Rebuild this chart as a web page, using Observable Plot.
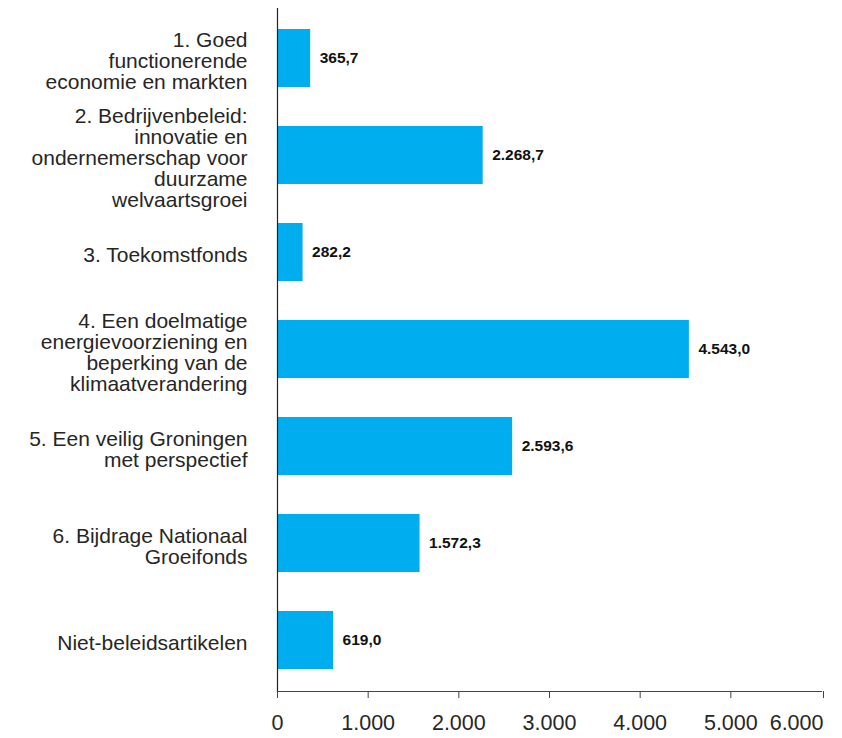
<!DOCTYPE html>
<html>
<head>
<meta charset="utf-8">
<script src="https://cdn.jsdelivr.net/npm/d3@7"></script>
<script src="https://cdn.jsdelivr.net/npm/@observablehq/plot@0.6"></script>
<style>
  html, body { margin: 0; padding: 0; background: #fff; }
  #chart svg { display: block; }
</style>
</head>
<body>
<div id="chart"></div>
<script>
const categories = [
  "1. Goed\nfunctionerende\neconomie en markten",
  "2. Bedrijvenbeleid:\ninnovatie en\nondernemerschap voor\nduurzame\nwelvaartsgroei",
  "3. Toekomstfonds",
  "4. Een doelmatige\nenergievoorziening en\nbeperking van de\nklimaatverandering",
  "5. Een veilig Groningen\nmet perspectief",
  "6. Bijdrage Nationaal\nGroeifonds",
  "Niet-beleidsartikelen"
];
const values = [365.7, 2268.7, 282.2, 4543.0, 2593.6, 1572.3, 619.0];
const xTicks = [0, 1000, 2000, 3000, 4000, 5000];
const xTickLast = [6000];

const locale = d3.formatLocale({decimal: ",", thousands: ".", grouping: [3], currency: ["€", ""]});
const fmtVal = locale.format(",.1f");
const fmtTick = locale.format(",d");

const data = categories.map((c, i) => ({cat: c, value: values[i]}));

const font = "'Liberation Sans', Arial, sans-serif";

const chart = Plot.plot({
  width: 842,
  height: 738,
  marginLeft: 277,
  marginRight: 21,
  marginTop: 8,
  marginBottom: 47,
  style: {fontFamily: font, color: "#262626", background: "#fff"},
  x: {domain: [0, 6000], label: null},
  y: {domain: categories, paddingInner: 0.4, paddingOuter: 0.21, label: null},
  marks: [
    Plot.barX(data, {x: "value", y: "cat", fill: "#00AEEF"}),
    Plot.ruleX([0], {stroke: "#222", strokeWidth: 1.2}),
    Plot.frame({anchor: "bottom", stroke: "#444", strokeWidth: 1.2}),
    Plot.axisX({ticks: xTicks, tickFormat: fmtTick, tickSize: 7, tickPadding: 16, fontSize: 21.5, stroke: "#444", label: null}),
    Plot.axisX({ticks: xTickLast, tickFormat: fmtTick, tickSize: 7, tickPadding: 16, fontSize: 21.5, stroke: "#444", textAnchor: "end", dx: 2, label: null}),
    Plot.axisY({tickSize: 0, tickPadding: 30, fontSize: 21, lineHeight: 1.0, dy: 3, label: null}),
    Plot.text(data, {x: "value", y: "cat", text: d => fmtVal(d.value), dx: 9, textAnchor: "start", fontSize: 15.5, fontWeight: "bold", fill: "#111"})
  ]
});
document.getElementById("chart").appendChild(chart);
</script>
</body>
</html>
